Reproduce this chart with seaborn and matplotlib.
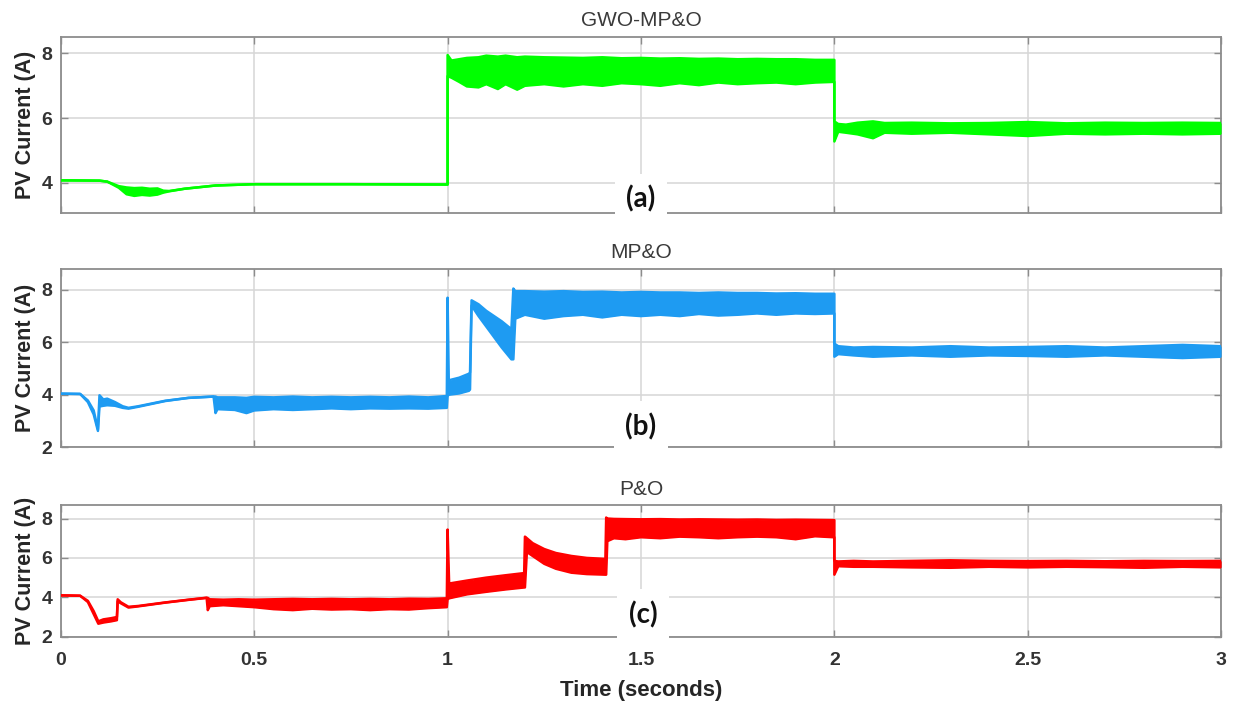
import numpy as np
import pandas as pd
import matplotlib
matplotlib.use("Agg")
import matplotlib.pyplot as plt
import seaborn as sns

# x axis
time_ticks = [0, 0.5, 1, 1.5, 2, 2.5, 3]
time_tick_labels = ["0", "0.5", "1", "1.5", "2", "2.5", "3"]

# (a) GWO-MP&O : upper / lower envelope of the PV current ripple band
gwo_time = [0.0, 0.10, 0.12, 0.15, 0.17, 0.19, 0.21, 0.23, 0.25, 0.265, 0.28, 0.32, 0.40, 0.50, 0.75, 0.998,
            1.0, 1.0, 1.01, 1.03, 1.05, 1.08, 1.10, 1.13, 1.15, 1.18, 1.20, 1.25, 1.30, 1.35, 1.40, 1.45,
            1.50, 1.55, 1.60, 1.65, 1.70, 1.75, 1.80, 1.85, 1.90, 1.95, 1.998,
            2.0, 2.0, 2.01, 2.03, 2.06, 2.10, 2.13, 2.20, 2.30, 2.40, 2.50, 2.60, 2.70, 2.80, 2.90, 3.0]
gwo_high = [4.08, 4.07, 4.04, 3.90, 3.86, 3.84, 3.85, 3.82, 3.83, 3.76, 3.75, 3.82, 3.92, 3.96, 3.96, 3.95,
            3.95, 7.95, 7.78, 7.82, 7.86, 7.88, 7.93, 7.90, 7.93, 7.88, 7.90, 7.88, 7.87, 7.86, 7.88, 7.85,
            7.86, 7.84, 7.85, 7.83, 7.84, 7.82, 7.83, 7.82, 7.82, 7.80, 7.80,
            7.80, 5.90, 5.82, 5.80, 5.86, 5.90, 5.85, 5.86, 5.84, 5.85, 5.88, 5.84, 5.86, 5.85, 5.86, 5.85]
gwo_low = [4.08, 4.07, 4.04, 3.85, 3.65, 3.60, 3.63, 3.61, 3.64, 3.70, 3.74, 3.82, 3.92, 3.96, 3.96, 3.95,
           3.95, 7.30, 7.25, 7.12, 6.98, 6.95, 7.05, 6.90, 7.05, 6.88, 7.00, 7.05, 6.98, 7.05, 7.00, 7.08,
           7.05, 7.00, 7.08, 7.02, 7.10, 7.05, 7.08, 7.10, 7.05, 7.10, 7.12,
           7.12, 5.28, 5.58, 5.55, 5.50, 5.38, 5.55, 5.52, 5.55, 5.50, 5.45, 5.52, 5.50, 5.52, 5.50, 5.52]

# (b) MP&O
mpo_time = [0.0, 0.05, 0.07, 0.085, 0.096, 0.100, 0.11, 0.12, 0.14, 0.16, 0.175, 0.20, 0.27, 0.33, 0.395,
            0.40, 0.405, 0.45, 0.48, 0.50, 0.55, 0.60, 0.65, 0.70, 0.75, 0.80, 0.85, 0.90, 0.95, 0.998,
            1.0, 1.003, 1.03, 1.055, 1.058, 1.062, 1.08, 1.10, 1.12, 1.14, 1.165,
            1.17, 1.175, 1.20, 1.25, 1.30, 1.35, 1.40, 1.45, 1.50, 1.55, 1.60, 1.65, 1.70, 1.75, 1.80,
            1.85, 1.90, 1.95, 1.998,
            2.0, 2.0, 2.01, 2.05, 2.10, 2.20, 2.30, 2.40, 2.50, 2.60, 2.70, 2.80, 2.90, 3.0]
mpo_high = [4.04, 4.03, 3.78, 3.40, 2.68, 3.98, 3.82, 3.85, 3.72, 3.56, 3.50, 3.56, 3.77, 3.88, 3.93,
            3.93, 3.90, 3.90, 3.88, 3.92, 3.90, 3.93, 3.90, 3.92, 3.90, 3.92, 3.90, 3.93, 3.90, 3.95,
            7.70, 4.55, 4.65, 4.80, 4.85, 7.60, 7.45, 7.20, 7.00, 6.80, 6.50,
            8.05, 7.95, 7.95, 7.93, 7.95, 7.92, 7.93, 7.90, 7.92, 7.90, 7.90, 7.88, 7.90, 7.88, 7.88,
            7.86, 7.87, 7.85, 7.85,
            7.85, 5.95, 5.85, 5.80, 5.82, 5.80, 5.85, 5.80, 5.82, 5.85, 5.80, 5.85, 5.90, 5.85]
mpo_low = [4.04, 4.03, 3.72, 3.25, 2.62, 3.55, 3.58, 3.60, 3.58, 3.50, 3.47, 3.54, 3.76, 3.88, 3.93,
           3.30, 3.45, 3.42, 3.30, 3.40, 3.45, 3.42, 3.45, 3.48, 3.45, 3.48, 3.47, 3.48, 3.47, 3.50,
           3.95, 4.00, 4.05, 4.15, 4.20, 7.40, 7.00, 6.60, 6.20, 5.80, 5.35,
           5.35, 6.90, 7.05, 6.90, 7.00, 7.05, 6.95, 7.05, 7.00, 7.05, 7.00, 7.08, 7.02, 7.05, 7.10,
           7.05, 7.10, 7.08, 7.10,
           7.10, 5.45, 5.55, 5.50, 5.45, 5.50, 5.45, 5.50, 5.48, 5.45, 5.50, 5.45, 5.40, 5.45]

# (c) P&O
po_time = [0.0, 0.05, 0.07, 0.085, 0.097, 0.11, 0.13, 0.145, 0.147, 0.155, 0.175, 0.20, 0.27, 0.33, 0.377,
           0.38, 0.385, 0.42, 0.46, 0.50, 0.55, 0.60, 0.65, 0.70, 0.75, 0.80, 0.85, 0.90, 0.95, 0.998,
           1.0, 1.004, 1.05, 1.10, 1.15, 1.198, 1.20, 1.205, 1.22, 1.25, 1.28, 1.32, 1.36, 1.408,
           1.41, 1.413, 1.43, 1.46, 1.50, 1.55, 1.60, 1.65, 1.70, 1.75, 1.80, 1.85, 1.90, 1.95, 1.998,
           2.0, 2.0, 2.01, 2.05, 2.10, 2.20, 2.30, 2.40, 2.50, 2.60, 2.70, 2.80, 2.90, 3.0]
po_high = [4.10, 4.08, 3.82, 3.30, 2.78, 2.88, 2.94, 3.00, 3.90, 3.75, 3.52, 3.56, 3.74, 3.88, 3.98,
           3.97, 3.90, 3.88, 3.90, 3.88, 3.90, 3.92, 3.90, 3.92, 3.90, 3.92, 3.90, 3.93, 3.92, 3.95,
           7.44, 4.70, 4.85, 5.00, 5.12, 5.23, 7.08, 7.00, 6.75, 6.45, 6.25, 6.10, 6.00, 5.95,
           8.05, 8.00, 7.98, 7.97, 7.96, 7.97, 7.95, 7.96, 7.95, 7.94, 7.95, 7.93, 7.94, 7.93, 7.92,
           7.92, 5.85, 5.82, 5.85, 5.82, 5.85, 5.88, 5.85, 5.84, 5.85, 5.83, 5.85, 5.84, 5.85]
po_low = [4.10, 4.08, 3.76, 3.15, 2.66, 2.72, 2.78, 2.84, 3.80, 3.70, 3.48, 3.54, 3.73, 3.87, 3.97,
          3.35, 3.55, 3.60, 3.55, 3.50, 3.40, 3.35, 3.42, 3.38, 3.40, 3.35, 3.40, 3.38, 3.45, 3.50,
          3.90, 3.95, 4.15, 4.28, 4.40, 4.50, 4.50, 6.30, 6.10, 5.70, 5.45, 5.25, 5.18, 5.15,
          5.15, 6.85, 7.00, 6.95, 7.05, 7.00, 7.08, 7.05, 7.00, 7.05, 7.08, 7.05, 6.95, 7.10, 7.05,
          7.05, 5.15, 5.58, 5.55, 5.55, 5.52, 5.50, 5.55, 5.52, 5.55, 5.53, 5.50, 5.55, 5.52]

panel_titles = ["GWO-MP&O", "MP&O", "P&O"]
panel_tags = ["(a)", "(b)", "(c)"]

sns.set_style("white")
plt.rcParams['font.family'] = ['Liberation Sans', 'DejaVu Sans']

fig = plt.figure(figsize=(12.41, 7.02), dpi=100)
fig.patch.set_facecolor('white')

# axes rectangles (fig fraction) measured on the reference
rects = [[0.049, 0.697, 0.935, 0.250],
         [0.049, 0.363, 0.935, 0.254],
         [0.049, 0.093, 0.935, 0.188]]
ylims = [(3.08, 8.5), (2.0, 8.8), (2.0, 8.7)]
yticks = [[4, 6, 8], [2, 4, 6, 8], [2, 4, 6, 8]]
colors = ['#00FF00', '#1E9BF2', '#FF0000']
traces = [(gwo_time, gwo_high, gwo_low),
          (mpo_time, mpo_high, mpo_low),
          (po_time, po_high, po_low)]
title_y = [0.9715, 0.640, 0.302]
# tag position in data coords
tag_pos = [(1.5, 3.50), (1.5, 2.78), (1.505, 3.12)]

axes = []
for i in range(3):
    ax = fig.add_axes(rects[i])
    axes.append(ax)
    t, hi, lo = traces[i]
    ax.fill_between(t, lo, hi, color=colors[i], lw=0, zorder=3)
    for edge in (hi, lo):
        sns.lineplot(x=t, y=edge, ax=ax, color=colors[i], lw=1.8,
                     sort=False, estimator=None, zorder=3)

    ax.set_xlim(0, 3)
    ax.set_ylim(*ylims[i])
    ax.set_xticks(time_ticks)
    ax.set_yticks(yticks[i])
    ax.set_yticklabels([str(v) for v in yticks[i]])
    if i == 2:
        ax.set_xticklabels(time_tick_labels)
    else:
        ax.set_xticklabels([])

    ax.grid(True, color='#d6d6d6', lw=1.1, zorder=0)
    ax.set_axisbelow(True)
    for s in ax.spines.values():
        s.set_color('#8c8c8c')
        s.set_linewidth(1.3)
    ax.tick_params(direction='in', length=5, width=1, color='#8c8c8c',
                   top=True, right=True, bottom=True, left=True,
                   labelsize=14, labelcolor='#333333')
    ax.tick_params(axis='x', pad=11)
    ax.tick_params(axis='y', pad=6)
    for lab in ax.get_xticklabels() + ax.get_yticklabels():
        lab.set_fontweight('bold')

    ax.set_xlabel('')
    ax.set_ylabel('PV Current (A)', fontsize=15.5, fontweight='bold', color='#262626')
    ax.yaxis.set_label_coords(-0.021, 0.5)

    fig.text(0.5165, title_y[i], panel_titles[i], ha='center', va='center',
             fontsize=15, color='#3a3a3a')

    ax.text(tag_pos[i][0], tag_pos[i][1], panel_tags[i], ha='center', va='center',
            fontsize=20, fontweight='bold', family=['Lato', 'DejaVu Sans'], color='#111111',
            bbox=dict(boxstyle='square,pad=0.42', fc='white', ec='none'),
            clip_on=False, zorder=10)

fig.text(0.5165, 0.017, 'Time (seconds)', ha='center', va='center',
         fontsize=16, fontweight='bold', color='#262626')

plt.savefig('out.png', dpi=100, facecolor='w')
